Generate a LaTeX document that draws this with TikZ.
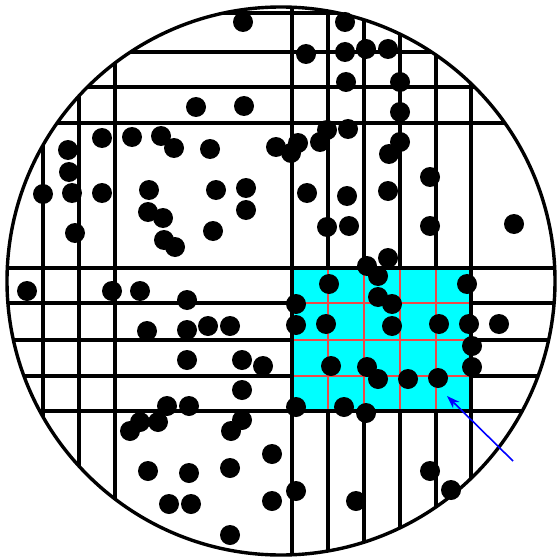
\documentclass[tikz,border=0pt]{standalone}
\usepackage{xcolor}
\usepackage{tikz}
\usetikzlibrary{arrows.meta}

\definecolor{cellred}{RGB}{238,72,72}
\definecolor{aqua}{RGB}{0,255,255}

\begin{document}
\begin{tikzpicture}[
  x=1pt, y=-1pt,
  >={Stealth[length=13pt, width=9pt, inset=4pt]},
  rim/.style={draw, line width=3.4pt},
  gridline/.style={draw, line width=3.2pt},
  cellline/.style={draw=cellred, line width=2.6pt},
  marked/.style={fill=aqua, draw=black, line width=3.2pt},
  dot/.style={fill=black},
  pointer/.style={->, line width=1.6pt, color=blue}
]
\useasboundingbox (0,0) rectangle (558,559);
\coordinate (c) at (281,281);

% grid lines, cut to the dish
\begin{scope}
\clip (c) circle[radius=274pt];
\foreach \x in {43,79,115,292,328,364,400,436,471}
  \draw[gridline] (\x,0) -- (\x,559);
\foreach \y in {13,52,87,123,268,303,340,376,411}
  \draw[gridline] (0,\y) -- (558,\y);
\end{scope}

% counted square
\coordinate (sq1) at (292,268);
\coordinate (sq2) at (471,411);
\fill[aqua] (sq1) rectangle (sq2);
\foreach \x in {328,364,400,436}
  \draw[cellline] (\x,268) -- (\x,411);
\foreach \y in {303,340,376}
  \draw[cellline] (292,\y) -- (471,\y);
\draw[marked, fill=none] (sq1) rectangle (sq2);

% colonies
\foreach \p in {(243,22),(345,22),(306,54),(345,52),(366,49),(388,49),(346,82),(400,82),
  (196,107),(244,106),(400,112),(102,138),(132,137),(161,136),(174,148),(210,149),
  (276,147),(291,153),(298,143),(320,142),(327,130),(348,129),(400,142),(389,154),
  (68,150),(69,172),(43,194),(72,193),(102,193),(149,190),(216,190),(246,188),
  (430,177),(307,193),(347,196),(388,191),(148,212),(163,218),(246,210),(75,233),
  (213,231),(164,240),(175,247),(327,227),(349,226),(430,226),(514,224),(388,258),
  (367,266),(378,276),(27,291),(112,291),(140,291),(187,300),(329,284),(467,284),
  (296,304),(378,297),(392,304),(147,331),(187,330),(208,326),(230,326),(296,325),
  (326,324),(392,326),(439,324),(469,324),(499,324),(472,346),(187,360),(242,360),
  (263,366),(331,366),(367,367),(378,379),(408,379),(438,378),(472,367),(242,390),
  (167,406),(189,406),(296,407),(344,407),(366,413),(140,422),(158,422),(130,431),
  (242,420),(231,431),(272,454),(148,471),(189,473),(230,468),(430,471),(451,490),
  (296,491),(169,504),(191,504),(272,501),(356,501),(230,535)}
  \fill[dot] \p circle[radius=10pt];

\draw[rim] (c) circle[radius=274pt];

\coordinate (tail) at (513,461);
\coordinate (tip) at (447,396);
\draw[pointer] (tail) -- (tip);
\end{tikzpicture}
\end{document}
